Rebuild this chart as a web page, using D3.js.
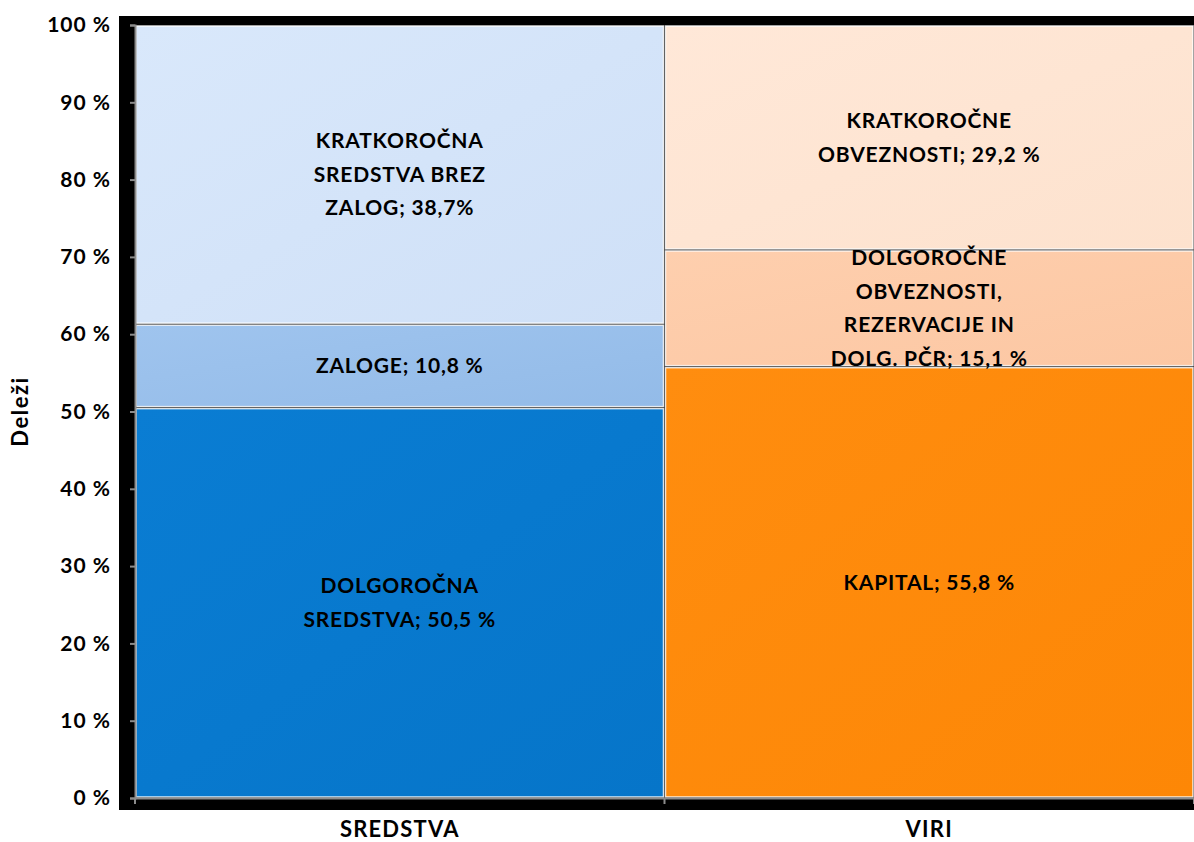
<!DOCTYPE html>
<html lang="sl">
<head>
<meta charset="UTF-8">
<script src="https://d3js.org/d3.v7.min.js"></script>
<style>
  body { margin: 0; background: #fff; }
  svg text { font-family: Lato, "Open Sans", sans-serif; font-weight: bold; fill: #000; }
</style>
</head>
<body>
<div id="chart"></div>
<script>
// podatki
var categories = ["SREDSTVA", "VIRI"];
var sredstvaValues = [50.5, 10.8, 38.7];
var viriValues = [55.8, 15.1, 29.2];
var sredstvaLabels = [
  ["DOLGOROČNA", "SREDSTVA; 50,5 %"],
  ["ZALOGE; 10,8 %"],
  ["KRATKOROČNA", "SREDSTVA BREZ", "ZALOG; 38,7%"]
];
var viriLabels = [
  ["KAPITAL; 55,8 %"],
  ["DOLGOROČNE", "OBVEZNOSTI,", "REZERVACIJE IN", "DOLG. PČR; 15,1 %"],
  ["KRATKOROČNE", "OBVEZNOSTI; 29,2 %"]
];
var sredstvaColors = [["#0a7dd3", "#0675c9"], ["#9fc4ee", "#93bbe8"], ["#d9e8fb", "#cfe0f7"]];
var viriColors = [["#ff8d0f", "#fd8706"], ["#fecfae", "#fcc7a3"], ["#ffe8d8", "#fde2ce"]];
var yTicks = [0, 10, 20, 30, 40, 50, 60, 70, 80, 90, 100];

var W = 1194, H = 842;
var plotL = 135, plotR = 1194, plotT = 25, plotB = 798;

var svg = d3.select("#chart").append("svg")
  .attr("width", W)
  .attr("height", H);

var defs = svg.append("defs");

// crno ozadje (stena)
svg.append("rect")
  .attr("x", 119).attr("y", 16)
  .attr("width", W - 119).attr("height", 810 - 16)
  .attr("fill", "#000");

var x = d3.scaleBand().domain(categories).range([plotL, plotR]).padding(0);
var y = d3.scaleLinear().domain([0, 100]).range([plotB, plotT]);

var series = [
  { cat: "SREDSTVA", values: sredstvaValues, labels: sredstvaLabels, colors: sredstvaColors },
  { cat: "VIRI", values: viriValues, labels: viriLabels, colors: viriColors }
];

var segs = [];
series.forEach(function(s, si) {
  var acc = 0;
  s.values.forEach(function(v, i) {
    segs.push({ cat: s.cat, y0: acc, y1: Math.min(acc + v, 100), lines: s.labels[i], colors: s.colors[i], id: "g" + si + i });
    acc += v;
  });
});

segs.forEach(function(d) {
  var g = defs.append("linearGradient").attr("id", d.id)
    .attr("x1", "0").attr("y1", "0").attr("x2", "1").attr("y2", "1");
  g.append("stop").attr("offset", "0").attr("stop-color", d.colors[0]);
  g.append("stop").attr("offset", "1").attr("stop-color", d.colors[1]);
});

svg.selectAll("rect.seg").data(segs).enter().append("rect")
  .attr("class", "seg")
  .attr("x", function(d) { return x(d.cat) + 1; })
  .attr("y", function(d) { return y(d.y1) + 1; })
  .attr("width", function(d) { return x.bandwidth() - 2; })
  .attr("height", function(d) { return y(d.y0) - y(d.y1) - 2; })
  .attr("fill", function(d) { return "url(#" + d.id + ")"; })
  .attr("stroke", "#ffffff")
  .attr("stroke-opacity", 0.85)
  .attr("stroke-width", 1.5);

// oznake
var lineH = 33.5;
segs.forEach(function(d) {
  var cx = x(d.cat) + x.bandwidth() / 2;
  var cy = (y(d.y0) + y(d.y1)) / 2;
  var n = d.lines.length;
  var t = svg.append("text")
    .attr("text-anchor", "middle")
    .attr("font-size", 21)
    .attr("letter-spacing", 0.8);
  d.lines.forEach(function(l, i) {
    t.append("tspan")
      .attr("x", cx)
      .attr("y", cy + (i - (n - 1) / 2) * lineH)
      .attr("dy", "0.35em")
      .text(l);
  });
});

// os y
var yAxis = svg.append("g")
  .attr("transform", "translate(" + plotL + ",0)")
  .call(d3.axisLeft(y).tickValues(yTicks).tickSize(5).tickPadding(19).tickFormat(function(d) { return d + " %"; }));
yAxis.select(".domain").attr("stroke", "#8c8c8c").attr("stroke-width", 2);
yAxis.selectAll(".tick line").attr("stroke", "#8c8c8c").attr("stroke-width", 2);
yAxis.selectAll(".tick text").attr("font-size", 21).attr("letter-spacing", 1)
  .attr("font-family", "Lato, sans-serif").attr("font-weight", "bold");

// os x
var xAxis = svg.append("g")
  .attr("transform", "translate(0," + plotB + ")")
  .call(d3.axisBottom(x).tickSize(0).tickPadding(23));
xAxis.select(".domain").attr("stroke", "#8c8c8c").attr("stroke-width", 2);
xAxis.selectAll(".tick text").attr("font-size", 22).attr("letter-spacing", 1.2)
  .attr("font-family", "Lato, sans-serif").attr("font-weight", "bold");
// locilne crtice med kategorijami
xAxis.selectAll("line.sep").data([plotL, x("VIRI"), plotR]).enter().append("line")
  .attr("class", "sep")
  .attr("x1", function(d) { return d; }).attr("x2", function(d) { return d; })
  .attr("y1", 0).attr("y2", 6)
  .attr("stroke", "#8c8c8c").attr("stroke-width", 2);

// naslov osi y
svg.append("text")
  .attr("transform", "translate(28," + ((plotT + plotB) / 2) + ") rotate(-90)")
  .attr("text-anchor", "middle")
  .attr("font-size", 22)
  .attr("letter-spacing", 1.5)
  .text("Deleži");
</script>
</body>
</html>
